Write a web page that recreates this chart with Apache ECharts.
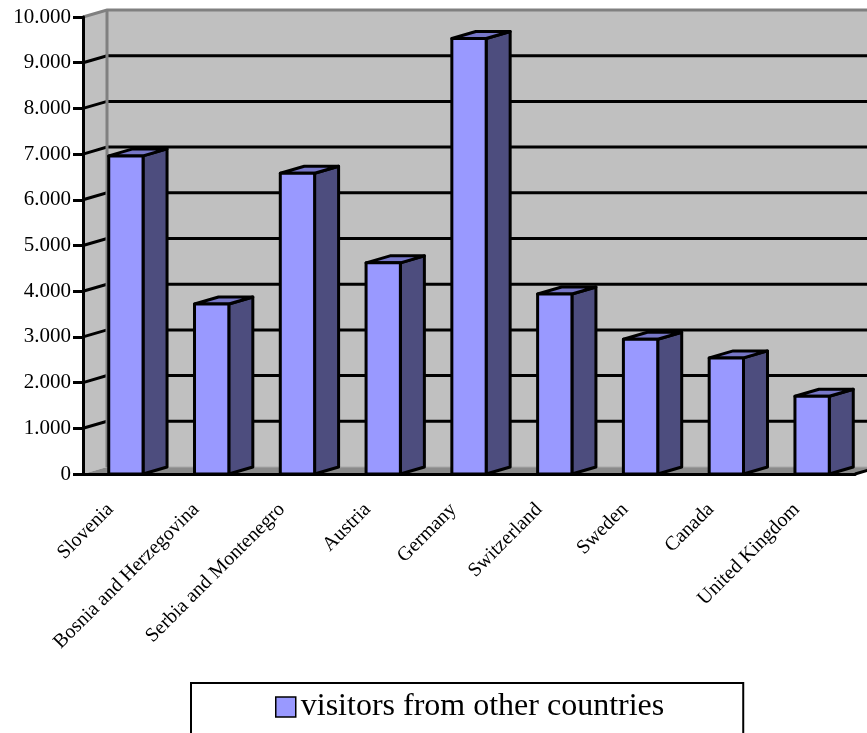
<!DOCTYPE html>
<html><head><meta charset="utf-8">
<script src="https://cdn.jsdelivr.net/npm/echarts/dist/echarts.min.js"></script>
<style>html,body{margin:0;padding:0;background:#fff}#c{width:867px;height:733px}</style>
</head><body><div id="c"></div>
<script>
const categories = ['Slovenia','Bosnia and Herzegovina','Serbia and Montenegro','Austria','Germany','Switzerland','Sweden','Canada','United Kingdom'];
const visitors = [6960,3720,6580,4620,9530,3940,2950,2540,1700];
const yTicks = [0,1000,2000,3000,4000,5000,6000,7000,8000,9000,10000];
const seriesName = 'visitors from other countries';

const DX = 24, DY = -7;
const FRONT = '#9999FF', SIDE = '#4D4D7E', TOP = '#7777C8';
const FONT = '"Liberation Serif","Times New Roman",serif';
const LW = 3;

function renderWalls(params, api) {
  const cs = params.coordSys;
  const x0 = cs.x, y0 = cs.y, w = cs.width, h = cs.height;
  const yb = y0 + h;
  const xr = x0 + w + DX + 40;
  const ch = [];
  ch.push({type:'polygon', shape:{points:[[x0+DX,y0+DY],[xr,y0+DY],[xr,yb+DY],[x0+DX,yb+DY]]}, style:{fill:'#C0C0C0'}});
  ch.push({type:'polygon', shape:{points:[[x0,y0],[x0+DX,y0+DY],[x0+DX,yb+DY],[x0,yb]]}, style:{fill:'#C0C0C0'}});
  ch.push({type:'polygon', shape:{points:[[x0,yb],[x0+w,yb],[x0+w+DX,yb+DY],[x0+DX,yb+DY]]}, style:{fill:'#8A8A8A'}});
  ch.push({type:'line', shape:{x1:x0+DX,y1:yb+DY,x2:xr,y2:yb+DY}, style:{stroke:'#A8A8A8', lineWidth:1}});
  yTicks.forEach(v => {
    if (v === 0 || v === yTicks[yTicks.length-1]) return;
    const y = api.coord([0, v])[1];
    ch.push({type:'polyline', shape:{points:[[x0,y],[x0+DX,y+DY],[xr,y+DY]]}, style:{stroke:'#000', lineWidth:LW, fill:null}});
  });
  ch.push({type:'polyline', shape:{points:[[x0,y0],[x0+DX,y0+DY],[xr,y0+DY]]}, style:{stroke:'#808080', lineWidth:3, fill:null}});
  ch.push({type:'line', shape:{x1:x0+DX,y1:y0+DY,x2:x0+DX,y2:yb+DY}, style:{stroke:'#808080', lineWidth:3}});
  ch.push({type:'line', shape:{x1:x0+w,y1:yb,x2:x0+w+DX,y2:yb+DY}, style:{stroke:'#000', lineWidth:LW}});
  return {type:'group', children:ch};
}

function renderBar(params, api) {
  const idx = api.value(0), val = api.value(1);
  const top = api.coord([idx, val]);
  const base = api.coord([idx, 0]);
  const bw = api.size([1, 0])[0] * 0.4;
  const xl = top[0] - bw/2, xr = top[0] + bw/2;
  const yt = top[1], yb = base[1];
  const st = {stroke:'#000', lineWidth:LW, lineJoin:'round'};
  return {type:'group', children:[
    {type:'polygon', shape:{points:[[xr,yt],[xr+DX,yt+DY],[xr+DX,yb+DY],[xr,yb]]}, style:Object.assign({fill:SIDE}, st)},
    {type:'polygon', shape:{points:[[xl,yt],[xl+DX,yt+DY],[xr+DX,yt+DY],[xr,yt]]}, style:Object.assign({fill:TOP}, st)},
    {type:'rect', shape:{x:xl, y:yt, width:bw, height:yb-yt}, style:Object.assign({fill:FRONT}, st)}
  ]};
}

const chart = echarts.init(document.getElementById('c'), null, {renderer:'canvas'});
chart.setOption({
  animation: false,
  backgroundColor: '#fff',
  grid: {left:83, right:12, top:17, bottom:259, containLabel:false},
  legend: {
    data: [{name: seriesName, icon:'rect', itemStyle:{color:FRONT, borderColor:'#000', borderWidth:1.5}}],
    left: 191, top: 683,
    borderColor:'#000', borderWidth:2,
    padding:[8, 79, 40, 84],
    itemWidth:20, itemHeight:20, itemGap:6,
    textStyle:{fontFamily:FONT, fontSize:32, color:'#000'}
  },
  xAxis: {
    type:'category', data:categories, z:5,
    axisLine:{lineStyle:{color:'#000', width:LW}},
    axisTick:{length:10, lineStyle:{color:'#000', width:LW}},
    axisLabel:{rotate:45, margin:17, padding:[0,22,0,0], interval:0, fontFamily:FONT, fontSize:20, color:'#000'},
    splitLine:{show:false}
  },
  yAxis: {
    type:'value', min:0, max:10000, interval:1000, z:5,
    axisLine:{show:true, lineStyle:{color:'#000', width:LW}},
    axisTick:{show:true, length:10, lineStyle:{color:'#000', width:LW}},
    axisLabel:{margin:12, fontFamily:FONT, fontSize:21, color:'#000',
      formatter: v => v === 0 ? '0' : (v/1000) + '.000'},
    splitLine:{show:false}
  },
  series: [
    {type:'custom', name:'walls', renderItem:renderWalls, data:[[0,0]], z:1, silent:true, encode:{x:0,y:1}},
    {type:'custom', name:seriesName, renderItem:renderBar, itemStyle:{color:FRONT},
     data: visitors.map((v,i)=>[i,v]), z:2, encode:{x:0,y:1}}
  ]
});
</script>
</body></html>
